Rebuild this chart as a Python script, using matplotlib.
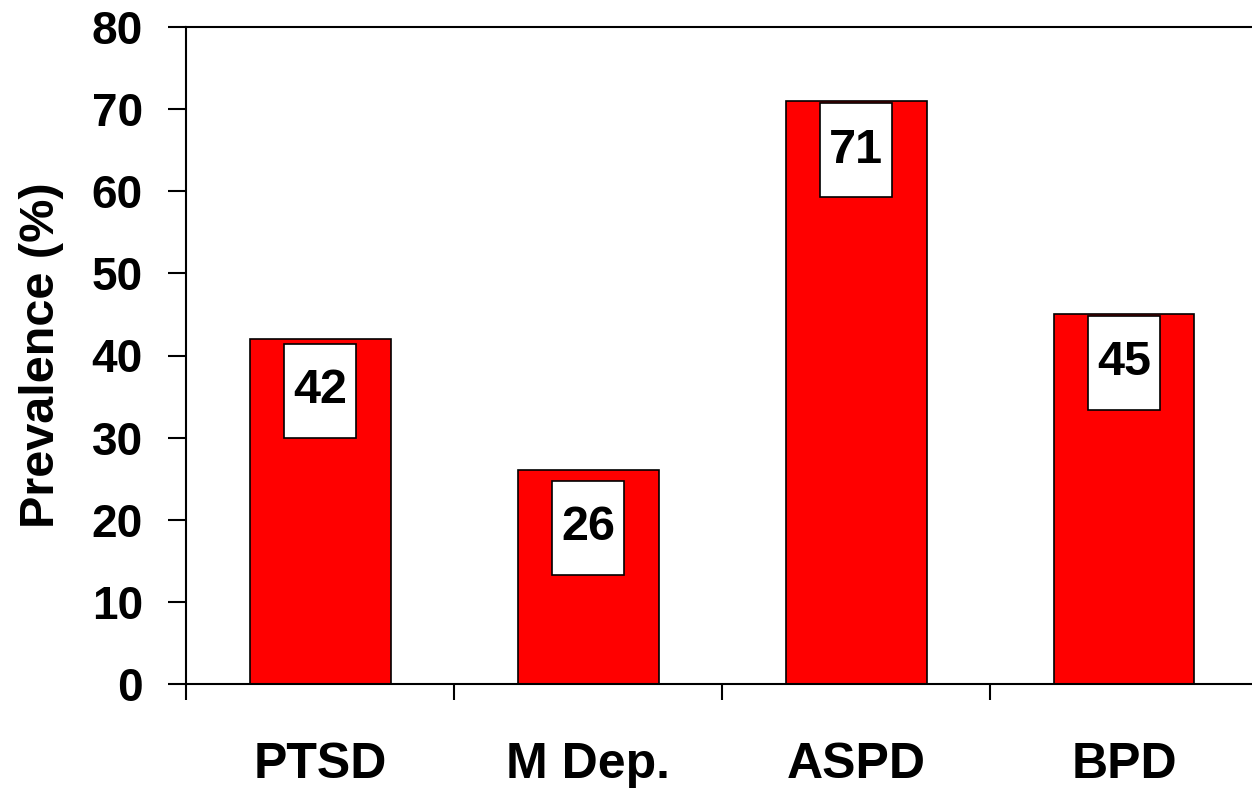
import matplotlib.pyplot as plt
from matplotlib.patches import Rectangle

# Data
categories = ['PTSD', 'M Dep.', 'ASPD', 'BPD']
prevalence = [42, 26, 71, 45]
y_ticks = [0, 10, 20, 30, 40, 50, 60, 70, 80]

# how far below the bar top each value box starts (styling, in %)
box_drop = [0.6, 1.3, 0.3, 0.2]

plt.rcParams['font.family'] = ['Liberation Sans', 'DejaVu Sans']
plt.rcParams['font.weight'] = 'bold'

fig = plt.figure(figsize=(12.52, 7.9), dpi=100)
ax = fig.add_axes([0.1486, 0.1342, 0.8562, 0.8316])

x = list(range(len(categories)))
ax.bar(x, prevalence, width=0.526, color='#ff0000', edgecolor='black', linewidth=1.2, zorder=2)

# white value boxes just below the top of each bar
box_h = 11.4
for i, v, d in zip(x, prevalence, box_drop):
    top = v - d
    ax.add_patch(Rectangle((i - 0.135, top - box_h), 0.27, box_h, facecolor='white',
                           edgecolor='black', linewidth=1.2, zorder=3))
    ax.text(i, top - box_h / 2, str(v), ha='center', va='center', fontsize=35,
            fontweight='bold', zorder=4)

ax.set_xlim(-0.5, 3.5)
ax.set_ylim(0, 80)
ax.set_yticks(y_ticks)
ax.set_xticks(x)
ax.set_xticklabels(categories)
ax.set_xticks([-0.5, 0.5, 1.5, 2.5], minor=True)

ax.tick_params(axis='y', direction='out', length=13, width=1.5, labelsize=33, pad=18)
ax.tick_params(axis='x', which='major', length=0, labelsize=36, pad=42)
ax.tick_params(axis='x', which='minor', direction='out', length=11.5, width=1.5)

for side in ['left', 'bottom', 'top']:
    ax.spines[side].set_linewidth(1.5)
ax.spines['right'].set_visible(False)

ax.set_ylabel('Prevalence (%)', fontsize=35, fontweight='bold', labelpad=20)

fig.savefig('out.png', dpi=100)
